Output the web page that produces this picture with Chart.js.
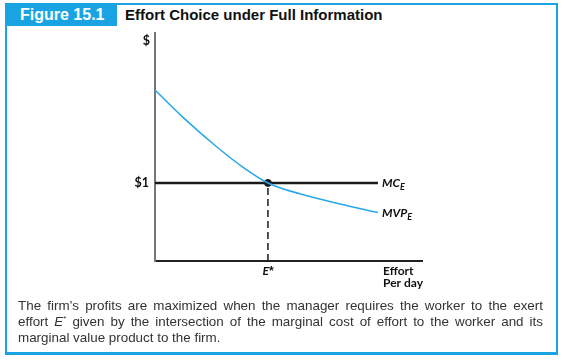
<!DOCTYPE html>
<html>
<head>
<meta charset="utf-8">
<script src="https://cdn.jsdelivr.net/npm/chart.js@4"></script>
<style>
  html, body { margin: 0; padding: 0; background: #fff; }
  body { width: 564px; height: 361px; position: relative; overflow: hidden; }
  #frame {
    position: absolute; left: 5px; top: 3px; width: 553px; height: 352px;
    box-sizing: border-box; border: 2px solid #1aa3e3; border-bottom-width: 3px;
  }
  #tab {
    position: absolute; left: 5px; top: 3px; width: 112px; height: 23px;
    background: #1aa3e3; color: #fff; font: bold 16px "Liberation Sans", Arial, sans-serif;
    line-height: 23px; padding-left: 15px; box-sizing: border-box;
  }
  #title {
    position: absolute; left: 125px; top: 4px;
    font: bold 15px "Liberation Sans", Arial, sans-serif; line-height: 22px; color: #111;
  }
  #caption {
    position: absolute; left: 18px; top: 298px; width: 525px;
    font: 13.4px "Liberation Sans", Arial, sans-serif; line-height: 16px; color: #333;
  }
  #caption div { text-align: justify; text-align-last: justify; white-space: nowrap; height: 16px; }
  #caption div.last { text-align-last: left; }
  #caption .star { font-size: 8px; position: relative; top: -5px; line-height: 0; }
  #myChart { position: absolute; left: 0; top: 0; }
</style>
</head>
<body>
<div id="frame"></div>
<div id="tab">Figure 15.1</div>
<div id="title">Effort Choice under Full Information</div>
<canvas id="myChart" width="564" height="361"></canvas>
<div id="caption">
  <div>The firm’s profits are maximized when the manager requires the worker to the exert</div>
  <div>effort <i>E</i><span class="star">*</span> given by the intersection of the marginal cost of effort to the worker and its</div>
  <div class="last">marginal value product to the firm.</div>
</div>

<script>
'use strict'

// *********DATA***********

// effort per day (x) and dollars (y)
let mvpEffort = [0, 1.05, 2.32, 3.3, 4.23, 5.43, 6.93, 8.35];
let mvpValue = [2.19, 1.84, 1.46, 1.2, 1.0, 0.86, 0.73, 0.62];

let mcEffort = [0, 8.35];
let mcValue = [1, 1];

let eStar = 4.23;
let wage = 1;

let effortMax = 10;
let dollarMax = 2.92;

let yTickLabels = ['$1'];


// *********HELPERS***********

function toPoints(xs, ys){
  let pts = [];
  for(let i = 0; i < xs.length; i++){
    pts.push({x: xs[i], y: ys[i]});
  }
  return pts;
}

const labelFont = '"Lato", "Open Sans", sans-serif';

// draws the text labels on the axes and curves
let labelPlugin = {
  id: 'labels',
  afterDraw(chart){
    let c = chart.ctx;
    let xs = chart.scales.x;
    let ys = chart.scales.y;
    c.save();
    c.fillStyle = '#111';
    c.textBaseline = 'middle';

    // y axis
    c.font = 'bold 12.5px ' + labelFont;
    c.textAlign = 'right';
    c.fillText('$', xs.left - 5, ys.top + 8);
    c.fillText(yTickLabels[0], xs.left - 6, ys.getPixelForValue(wage));

    // E*
    let ex = xs.getPixelForValue(eStar);
    c.font = 'italic bold 12px ' + labelFont;
    c.textAlign = 'right';
    c.fillText('E', ex + 1, ys.bottom + 10);
    c.font = 'bold 12px "Liberation Sans", sans-serif';
    c.textAlign = 'left';
    c.fillText('*', ex + 1, ys.bottom + 11);

    // curve labels with subscript
    let endX = xs.getPixelForValue(mcEffort[1]) + 4;
    function subLabel(main, sub, x, y){
      c.textAlign = 'left';
      c.font = 'italic bold 12px ' + labelFont;
      c.fillText(main, x, y);
      let w = c.measureText(main).width;
      c.font = 'italic bold 9px ' + labelFont;
      c.fillText(sub, x + w, y + 4);
    }
    subLabel('MC', 'E', endX, ys.getPixelForValue(mcValue[1]));
    subLabel('MVP', 'E', endX, ys.getPixelForValue(mvpValue[mvpValue.length - 1]) + 1);

    // x axis title
    c.font = 'bold 12px ' + labelFont;
    c.textAlign = 'left';
    c.fillText('Effort', xs.right - 39, ys.bottom + 10);
    c.fillText('Per day', xs.right - 39, ys.bottom + 22);
    c.restore();
  }
};


// ********CHART RENDER*********

let ctx = document.getElementById('myChart');

new Chart(ctx, {
  type: 'line',
  data: {
    datasets: [{
      label: 'MVP',
      data: toPoints(mvpEffort, mvpValue),
      borderColor: '#2aa7ea',
      borderWidth: 1.6,
      pointRadius: 0,
      cubicInterpolationMode: 'monotone'
    },
    {
      label: 'MC',
      data: toPoints(mcEffort, mcValue),
      borderColor: '#1a1a1a',
      borderWidth: 2.5,
      pointRadius: 0
    },
    {
      label: 'dash',
      data: toPoints([eStar, eStar], [0, wage]),
      borderColor: '#1a1a1a',
      borderWidth: 1.5,
      borderDash: [7, 4],
      pointRadius: 0
    },
    {
      label: 'dot',
      data: toPoints([eStar], [wage]),
      borderColor: '#1a1a1a',
      backgroundColor: '#1a1a1a',
      pointRadius: 3.5,
      showLine: false
    }]
  },
  options: {
    responsive: false,
    animation: false,
    clip: false,
    layout: { padding: { left: 155, top: 33, right: 142, bottom: 100 } },
    plugins: { legend: { display: false }, tooltip: { enabled: false } },
    scales: {
      x: {
        type: 'linear', min: 0, max: effortMax,
        grid: { drawOnChartArea: false, drawTicks: false },
        ticks: { display: false },
        border: { color: '#222', width: 2 }
      },
      y: {
        type: 'linear', min: 0, max: dollarMax,
        grid: { drawOnChartArea: false, drawTicks: false },
        ticks: { display: false },
        border: { color: '#777', width: 2 }
      }
    }
  },
  plugins: [labelPlugin]
});
</script>
</body>
</html>
